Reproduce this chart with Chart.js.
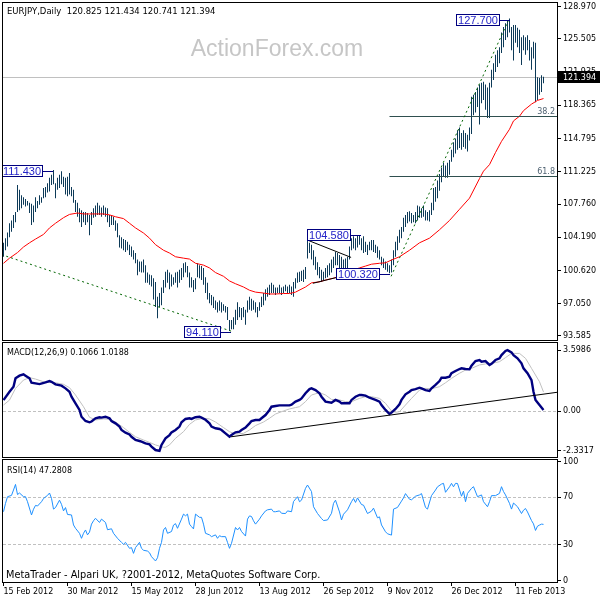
<!DOCTYPE html>
<html>
<head>
<meta charset="utf-8">
<title>EURJPY Daily</title>
<script src="https://cdn.jsdelivr.net/npm/chart.js@4.4.1/dist/chart.umd.min.js"></script>
<style>
    html, body { margin: 0; padding: 0; background: #ffffff; }
    #board { position: relative; width: 600px; height: 600px; overflow: hidden; background: #ffffff; }
    #board canvas { position: absolute; left: 0; }
</style>
</head>
<body>
<div id="board">
    <canvas id="priceChart" width="600" height="348" style="top:0px"></canvas>
    <canvas id="macdChart" width="600" height="130" style="top:335px"></canvas>
    <canvas id="rsiChart" width="600" height="148" style="top:452px"></canvas>
</div>
<script>
// EURJPY daily - bars, moving average, MACD and RSI panels

// bar index 0 = 15 Feb 2012, one bar per trading day
const barHigh = [
    103.6, 104.1, 104.7, 105.7, 106.0, 106.6, 106.9, 109.8, 109.3, 108.7,
    108.5, 108.3, 108.1, 107.9, 107.8, 107.6, 108.5, 108.1, 108.7, 108.5,
    109.5, 109.6, 110.0, 110.6, 110.9, 111.43, 110.0, 110.6, 110.9, 111.3,
    110.7, 110.6, 110.7, 111.1, 109.6, 109.3, 108.2, 107.9, 107.3, 107.1,
    106.9, 106.9, 106.8, 106.6, 106.9, 107.3, 107.6, 107.9, 107.6, 107.4,
    107.6, 107.4, 107.3, 106.6, 106.6, 106.4, 106.0, 105.7, 104.4, 104.2,
    104.0, 103.9, 103.7, 103.4, 103.2, 102.8, 102.5, 101.8, 101.6, 101.6,
    101.8, 101.2, 100.4, 100.2, 100.1, 99.8, 99.4, 97.8, 98.2, 98.8,
    99.6, 100.5, 100.7, 100.4, 100.2, 99.9, 100.4, 100.5, 100.7, 100.9,
    101.4, 101.5, 101.1, 100.4, 99.9, 99.6, 99.8, 101.4, 101.2, 101.1,
    100.9, 99.9, 99.3, 98.2, 98.0, 97.8, 97.4, 97.2, 97.4, 97.2,
    97.0, 96.8, 96.7, 95.3, 95.3, 95.6, 96.4, 97.2, 96.7, 96.6,
    96.7, 96.4, 97.4, 97.8, 97.6, 97.4, 97.2, 96.7, 97.2, 97.8,
    98.2, 98.6, 98.8, 99.1, 99.3, 99.1, 98.8, 98.8, 99.1, 98.8,
    98.9, 99.1, 98.9, 99.1, 98.9, 99.4, 99.8, 100.4, 100.5, 100.6,
    100.7, 101.0, 104.58, 103.6, 103.4, 102.8, 102.1, 101.5, 101.0, 100.7,
    100.5, 100.9, 101.2, 101.4, 101.8, 102.1, 102.6, 102.5, 102.3, 102.1,
    101.8, 101.9, 102.1, 103.2, 104.1, 104.3, 104.1, 104.4, 104.4, 104.1,
    104.3, 103.7, 103.4, 103.7, 103.9, 103.9, 103.4, 103.2, 102.8, 102.1,
    101.9, 101.6, 101.4, 101.2, 101.8, 102.8, 103.7, 104.3, 105.0, 105.3,
    106.3, 106.6, 106.9, 107.0, 106.8, 106.6, 106.9, 107.6, 107.5, 107.3,
    107.6, 107.1, 106.9, 107.1, 107.9, 109.5, 109.6, 110.3, 111.0, 111.7,
    112.2, 111.9, 112.2, 112.5, 113.6, 114.4, 114.8, 115.7, 116.0, 115.4,
    115.7, 115.4, 115.2, 116.0, 119.3, 119.5, 119.8, 120.3, 120.6, 120.8,
    120.9, 120.6, 120.3, 120.8, 122.2, 122.9, 123.8, 124.3, 124.6, 126.2,
    126.8, 127.2, 127.5, 127.7, 126.8, 127.0, 127.0, 126.7, 126.5, 125.7,
    125.9, 125.7, 125.9, 125.4, 124.6, 125.2, 125.1, 121.4, 121.3, 121.6,
    121.434
];
const barLow = [
    102.1, 102.8, 103.2, 104.2, 104.8, 105.2, 105.8, 106.9, 107.1, 107.3,
    107.7, 107.5, 107.6, 106.8, 105.5, 105.8, 106.9, 107.3, 107.7, 107.9,
    108.4, 108.5, 109.0, 109.1, 109.8, 109.9, 108.4, 109.3, 109.5, 109.9,
    109.6, 108.8, 108.6, 108.8, 108.6, 107.9, 106.9, 106.4, 105.8, 105.3,
    105.8, 105.5, 105.8, 104.4, 105.5, 106.3, 106.4, 106.6, 106.6, 106.4,
    106.6, 106.4, 105.8, 105.3, 105.5, 105.5, 104.9, 104.2, 103.1, 103.0,
    102.8, 102.6, 102.8, 102.3, 102.1, 101.8, 101.4, 100.1, 100.5, 100.4,
    100.4, 99.3, 99.3, 99.1, 98.9, 97.5, 96.7, 95.5, 96.7, 96.9,
    98.2, 98.8, 99.3, 98.6, 98.9, 99.1, 99.3, 98.8, 99.3, 99.6,
    99.9, 100.4, 99.9, 98.8, 98.8, 98.3, 98.6, 99.9, 99.8, 99.6,
    99.1, 98.2, 97.5, 97.1, 96.9, 96.6, 96.4, 96.1, 96.3, 96.1,
    96.3, 96.1, 95.3, 94.11, 94.3, 94.3, 94.8, 95.3, 95.6, 95.3,
    95.6, 94.8, 96.1, 96.4, 96.3, 96.4, 96.1, 95.6, 96.3, 96.7,
    96.9, 97.4, 97.8, 98.0, 98.2, 98.2, 98.0, 98.2, 98.2, 98.0,
    98.2, 98.4, 98.2, 98.2, 98.0, 97.8, 98.7, 99.3, 99.4, 99.5,
    99.4, 99.7, 101.9, 102.5, 101.8, 101.2, 100.7, 100.1, 99.8, 99.4,
    99.6, 99.8, 99.9, 100.1, 100.4, 100.9, 101.2, 101.2, 100.7, 100.5,
    100.4, 100.7, 100.9, 101.8, 102.8, 103.0, 102.8, 103.1, 103.4, 102.8,
    102.5, 102.6, 102.3, 102.8, 102.8, 102.6, 102.5, 102.0, 101.8, 101.2,
    100.9, 100.7, 100.5, 100.32, 100.4, 101.2, 102.1, 102.8, 103.6, 104.1,
    104.8, 105.3, 105.7, 105.9, 105.7, 105.8, 105.7, 106.0, 106.3, 106.3,
    106.4, 106.0, 106.0, 105.9, 106.6, 107.1, 108.0, 108.4, 109.2, 110.1,
    110.7, 110.6, 110.6, 110.9, 112.3, 112.8, 113.2, 113.6, 113.8, 113.6,
    113.9, 113.7, 113.4, 114.6, 115.3, 117.3, 117.6, 118.2, 116.3, 118.6,
    118.95, 117.9, 117.0, 117.0, 120.3, 121.1, 121.95, 122.5, 122.9, 124.0,
    124.6, 125.4, 125.7, 126.2, 124.3, 123.2, 125.1, 124.6, 124.0, 122.7,
    124.3, 123.8, 124.3, 123.2, 122.2, 123.4, 118.7, 118.95, 119.5, 119.8,
    120.741
];
const lastBar = { open: 120.825, high: 121.434, low: 120.741, close: 121.394 };

// red moving average, read every few bars
const maIdx = [0, 3, 7, 10, 13, 16, 20, 23, 26, 30, 33, 37, 40, 43, 46, 50, 53, 56, 60, 63,
    66, 70, 73, 76, 80, 83, 86, 90, 93, 96, 100, 103, 106, 110, 113, 116, 120, 123, 126, 130,
    133, 136, 140, 143, 146, 151, 154, 158, 161, 165, 168, 171, 174, 178, 181, 184, 188, 191, 194, 198,
    203, 208, 213, 218, 223, 228, 233, 238, 240, 243, 246, 249, 253, 255, 258, 260, 264, 267, 270];
const maVal = [101.4, 101.95, 102.55, 103.15, 103.6, 104.0, 104.5, 105.2, 105.7, 106.3,
    106.65, 106.8, 106.7, 106.7, 106.7, 106.7, 106.6, 106.4, 106.2, 105.7,
    105.2, 104.65, 104.1, 103.4, 102.8, 102.5, 102.1, 101.95, 101.85, 101.4,
    101.2, 100.9, 100.4, 100.0, 99.5, 99.2, 98.85, 98.5, 98.3, 98.2,
    98.1, 98.1, 98.15, 98.15, 98.3, 98.85, 99.3, 99.4, 99.6, 99.8,
    100.0, 100.35, 100.6, 100.9, 101.1, 101.3, 101.4, 101.45, 101.75, 102.1,
    102.8, 103.6, 104.1, 105.0, 106.0, 107.2, 108.4, 110.5, 111.3, 112.0,
    113.3, 114.5, 115.8, 116.7, 117.2, 117.8, 118.5, 118.9, 119.1];

// MACD(12,26,9) main and signal
const macdIdx = [0, 3, 5, 6, 8, 10, 11, 13, 14, 18, 21, 23, 24, 26, 29, 31, 33, 34, 36, 38,
    39, 41, 43, 44, 46, 48, 49, 51, 53, 54, 56, 58, 59, 61, 63, 64, 66, 68, 69, 71,
    73, 74, 76, 78, 79, 81, 83, 84, 86, 88, 89, 91, 93, 94, 96, 98, 99, 101, 103, 104,
    106, 108, 109, 111, 113, 114, 116, 118, 119, 121, 123, 124, 126, 128, 129, 131, 133, 134, 136, 138,
    143, 144, 146, 148, 149, 151, 153, 154, 156, 158, 159, 161, 164, 166, 168, 169, 173, 174, 176, 178,
    179, 181, 183, 184, 186, 188, 189, 191, 193, 194, 196, 198, 199, 201, 203, 204, 206, 208, 209, 211,
    213, 214, 216, 218, 219, 221, 223, 224, 226, 228, 229, 231, 233, 234, 236, 238, 239, 241, 243, 244,
    246, 248, 249, 251, 252, 254, 255, 257, 259, 260, 262, 264, 265, 266, 268, 270];
const macdVal = [0.66, 1.15, 1.45, 1.94, 2.1, 2.18, 2.1, 1.94, 1.68, 1.6,
    1.7, 1.78, 1.74, 1.59, 1.51, 1.35, 1.15, 0.86, 0.47, 0.08,
    -0.32, -0.57, -0.65, -0.6, -0.41, -0.35, -0.37, -0.32, -0.41, -0.57,
    -0.71, -0.9, -1.1, -1.26, -1.36, -1.5, -1.69, -1.75, -1.79, -1.89,
    -1.95, -2.08, -2.28, -2.33, -1.98, -1.59, -1.4, -1.24, -1.1, -0.9,
    -0.65, -0.45, -0.41, -0.45, -0.35, -0.32, -0.37, -0.5, -0.71, -0.9,
    -1.0, -1.04, -1.1, -1.3, -1.5, -1.4, -1.24, -1.2, -1.1, -0.96,
    -0.71, -0.57, -0.51, -0.51, -0.41, -0.22, 0.08, 0.27, 0.31, 0.35,
    0.35, 0.39, 0.57, 0.67, 0.76, 1.06, 1.31, 1.35, 1.25, 1.06,
    0.86, 0.57, 0.51, 0.67, 0.57, 0.47, 0.47, 0.67, 0.86, 0.96,
    0.96, 0.92, 0.8, 0.76, 0.67, 0.57, 0.37, 0.08, -0.16, -0.08,
    0.14, 0.41, 0.67, 1.0, 1.15, 1.25, 1.31, 1.39, 1.35, 1.25,
    1.2, 1.35, 1.55, 1.78, 1.98, 1.98, 2.04, 2.24, 2.37, 2.49,
    2.53, 2.49, 2.47, 2.69, 2.96, 3.02, 2.92, 2.96, 2.73, 2.8,
    3.02, 3.12, 3.31, 3.55, 3.6, 3.47, 3.31, 3.12, 2.83, 2.53,
    2.24, 1.84, 1.15, 0.67, 0.37, 0.08];
const sigIdx = [0, 3, 6, 10, 13, 16, 20, 23, 26, 30, 33, 36, 40, 43, 46, 50, 53, 56, 60, 63,
    66, 70, 73, 76, 80, 81, 83, 86, 90, 93, 96, 100, 103, 106, 110, 113, 116, 120, 123, 126,
    130, 133, 136, 140, 143, 146, 148, 151, 154, 158, 161, 164, 168, 171, 174, 178, 181, 184, 188, 191,
    194, 196, 198, 201, 204, 208, 211, 214, 218, 221, 224, 228, 231, 234, 238, 241, 244, 248, 251, 254,
    258, 261, 264, 268, 270];
const sigVal = [0.37, 0.66, 1.35, 1.84, 1.98, 1.9, 1.74, 1.7, 1.68, 1.59,
    1.39, 0.96, 0.27, -0.35, -0.51, -0.45, -0.47, -0.63, -0.96, -1.24,
    -1.5, -1.69, -1.83, -1.98, -2.12, -2.12, -1.98, -1.59, -1.2, -0.77,
    -0.51, -0.41, -0.45, -0.63, -0.96, -1.2, -1.34, -1.3, -1.1, -0.84,
    -0.63, -0.41, -0.16, 0.02, 0.14, 0.22, 0.27, 0.57, 0.96, 1.1,
    0.96, 0.7, 0.67, 0.57, 0.57, 0.76, 0.86, 0.86, 0.76, 0.47,
    0.02, -0.06, -0.02, 0.37, 0.76, 1.25, 1.35, 1.33, 1.45, 1.68,
    1.94, 2.24, 2.43, 2.53, 2.73, 2.79, 2.82, 2.92, 3.16, 3.41,
    3.41, 3.12, 2.53, 1.74, 1.14];

// RSI(14)
const rsiIdx = [0, 1, 2, 4, 5, 6, 7, 8, 10, 11, 12, 14, 15, 16, 17, 19, 20, 22, 23, 24,
    25, 26, 28, 29, 30, 31, 32, 34, 35, 36, 38, 39, 40, 41, 42, 43, 44, 45, 46, 48,
    49, 51, 52, 54, 55, 57, 59, 60, 61, 63, 64, 65, 66, 68, 69, 70, 72, 73, 74, 76,
    77, 78, 79, 80, 81, 82, 84, 85, 86, 87, 89, 90, 91, 92, 93, 94, 95, 96, 98, 99,
    100, 101, 103, 104, 106, 107, 108, 109, 111, 112, 113, 114, 116, 117, 118, 119, 121, 122, 123, 124,
    125, 126, 128, 129, 131, 132, 134, 135, 136, 138, 139, 141, 142, 144, 145, 147, 148, 149, 151, 152,
    154, 155, 157, 159, 160, 162, 164, 165, 166, 168, 169, 170, 172, 174, 175, 176, 177, 179, 180, 182,
    184, 185, 187, 188, 189, 191, 192, 194, 195, 197, 199, 200, 201, 203, 204, 206, 208, 209, 211, 212,
    214, 216, 217, 219, 220, 221, 223, 224, 225, 226, 227, 229, 230, 231, 232, 234, 235, 237, 239, 240,
    242, 243, 244, 246, 248, 249, 250, 251, 253, 254, 255, 257, 259, 260, 261, 262, 264, 265, 266, 267,
    268, 269, 270];
const rsiVal = [57.9, 64.9, 70.5, 71.6, 76.1, 80.8, 72.3, 73.6, 70.5, 70.5,
    66.3, 55.2, 60.0, 63.2, 62.7, 66.3, 69.0, 71.6, 73.6, 69.1,
    60.1, 61.4, 67.6, 64.1, 58.6, 61.4, 55.6, 55.2, 46.8, 44.0,
    39.8, 35.6, 39.8, 42.6, 38.5, 40.8, 47.5, 50.3, 52.4, 48.9,
    51.7, 48.9, 42.8, 43.6, 39.8, 35.6, 32.2, 30.6, 32.2, 27.2,
    27.8, 23.0, 27.8, 32.2, 27.2, 25.6, 24.9, 23.5, 20.2, 16.6,
    19.3, 27.2, 32.2, 42.6, 44.7, 39.8, 41.3, 46.7, 47.9, 44.0,
    51.7, 55.9, 54.5, 55.9, 47.5, 45.4, 43.5, 55.9, 53.2, 53.2,
    47.5, 39.8, 38.5, 37.0, 38.5, 35.6, 37.8, 37.0, 37.0, 32.2,
    27.2, 31.4, 44.7, 42.6, 44.7, 41.3, 37.5, 51.7, 54.4, 53.9,
    50.3, 47.5, 51.7, 54.4, 58.6, 59.5, 60.1, 57.9, 57.9, 58.6,
    56.6, 56.4, 58.6, 57.9, 66.4, 70.5, 66.3, 67.6, 77.5, 80.3,
    74.8, 62.1, 56.4, 52.2, 50.5, 51.0, 56.6, 64.9, 67.6, 57.7,
    51.0, 55.8, 59.5, 66.3, 69.0, 65.7, 69.5, 63.9, 63.4, 56.4,
    58.4, 60.9, 52.8, 53.6, 46.8, 41.1, 39.4, 38.3, 60.1, 61.5,
    66.8, 69.5, 73.1, 68.4, 67.9, 70.9, 72.0, 73.1, 61.5, 60.1,
    71.4, 76.1, 78.8, 81.1, 81.7, 74.2, 78.8, 81.7, 78.8, 81.7,
    81.6, 70.9, 75.1, 66.3, 73.3, 77.5, 78.9, 70.5, 72.0, 66.3,
    62.1, 66.3, 71.4, 71.4, 73.3, 78.9, 74.8, 72.0, 64.9, 60.1,
    65.2, 62.1, 56.4, 59.2, 60.6, 57.7, 50.5, 47.7, 42.2, 45.8,
    46.7, 47.5, 47.3];

// axis ticks
const priceTicks = [93.585, 97.050, 100.620, 104.190, 107.760, 111.225, 114.795, 118.365, 121.935, 125.505, 128.970];
const macdTicks = [3.5986, 0, -2.3317];
const macdTickLabels = ['3.5986', '0.00', '-2.3317'];
const rsiTicks = [100, 70, 30, 0];
const rsiLevels = [70, 30];
const dateTickIdx = [0, 32, 64, 96, 128, 160, 192, 224, 256];
const dateTickLabels = ['15 Feb 2012', '30 Mar 2012', '15 May 2012', '28 Jun 2012', '13 Aug 2012',
    '26 Sep 2012', '9 Nov 2012', '26 Dec 2012', '11 Feb 2013'];

// analyst drawings, points as [bar index, value]
const supportLine = [[-1, 102.33], [113.8, 94.11]];
const rallyLine = [[193.8, 100.0], [252.7, 127.6]];
const wedgeTop = [[152.7, 103.83], [173.8, 102.03]];
const wedgeBottom = [[154.7, 99.25], [173.8, 100.25]];
const fibStartIdx = 193;
const fibLevels = [{ label: '38.2', price: 117.24 }, { label: '61.8', price: 110.78 }];
const priceLabels = [
    { text: '111.430', idx: 24.5, price: 111.43 },
    { text: '94.110', idx: 113.8, price: 94.11 },
    { text: '104.580', idx: 178.8, price: 104.58 },
    { text: '100.320', idx: 193.3, price: 100.32 },
    { text: '127.700', idx: 253, price: 127.7 }
];
const macdTrend = [[113.8, -1.5], [276.8, 1.12]];

const SMALL_FONT = '"DejaVu Sans", Tahoma, Verdana, sans-serif';
const LABEL_FONT = '"Liberation Sans", Arial, sans-serif';

function hLine(ctx, x1, x2, y) {
    ctx.beginPath();
    ctx.moveTo(x1, y);
    ctx.lineTo(x2, y);
    ctx.stroke();
}

function segment(chart, pts) {
    const { ctx, scales: { x, y } } = chart;
    ctx.beginPath();
    ctx.moveTo(x.getPixelForValue(pts[0][0]), y.getPixelForValue(pts[0][1]));
    ctx.lineTo(x.getPixelForValue(pts[1][0]), y.getPixelForValue(pts[1][1]));
    ctx.stroke();
}

function clipArea(chart) {
    const { ctx, chartArea: a } = chart;
    ctx.beginPath();
    ctx.rect(a.left, a.top, a.right - a.left, a.bottom - a.top);
    ctx.clip();
}

function drawPriceLabel(ctx, ax, ay, text) {
    ctx.font = '11px ' + LABEL_FONT;
    const w = Math.round(ctx.measureText(text).width) + 4;
    const right = Math.round(ax) - 10;
    const mid = Math.round(ay + 1);
    const top = mid - 6;
    ctx.fillStyle = '#ffffff';
    ctx.fillRect(right - w, top, w, 12);
    ctx.strokeStyle = '#000080';
    ctx.lineWidth = 1;
    ctx.strokeRect(right - w + 0.5, top + 0.5, w - 1, 11);
    hLine(ctx, right, Math.round(ax), mid + 0.5);
    ctx.fillStyle = '#2424c8';
    ctx.textAlign = 'center';
    ctx.textBaseline = 'middle';
    ctx.fillText(text, right - w / 2, mid + 0.5);
}

// black frame round each panel
const panelFrame = {
    id: 'panelFrame',
    afterDraw(chart) {
        const { ctx, chartArea: a } = chart;
        ctx.save();
        ctx.strokeStyle = '#000000';
        ctx.lineWidth = 1;
        ctx.strokeRect(a.left - 0.5, a.top - 0.5, a.right - a.left + 1, a.bottom - a.top + 1);
        ctx.restore();
    }
};

const priceOverlay = {
    id: 'priceOverlay',
    beforeDatasetsDraw(chart) {
        const { ctx, chartArea: a, scales: { y } } = chart;
        ctx.save();
        ctx.fillStyle = '#c6c6c6';
        ctx.font = '23px ' + LABEL_FONT;
        ctx.textAlign = 'center';
        ctx.textBaseline = 'alphabetic';
        ctx.fillText('ActionForex.com', 277, 56);
        // bid line
        ctx.strokeStyle = '#c0c0c0';
        ctx.lineWidth = 1;
        hLine(ctx, a.left, a.right, Math.floor(y.getPixelForValue(lastBar.close)) + 0.5);
        ctx.restore();
    },
    afterDatasetsDraw(chart) {
        const { ctx, chartArea: a, scales: { x, y } } = chart;
        ctx.save();
        clipArea(chart);
        ctx.lineWidth = 1;

        // fibonacci retracements
        ctx.strokeStyle = '#2f4f4f';
        ctx.fillStyle = '#4f6272';
        ctx.font = '8px ' + SMALL_FONT;
        ctx.textAlign = 'right';
        ctx.textBaseline = 'alphabetic';
        fibLevels.forEach(f => {
            const fy = Math.round(y.getPixelForValue(f.price)) + 0.5;
            hLine(ctx, x.getPixelForValue(fibStartIdx), a.right, fy);
            ctx.fillText(f.label, a.right - 2, fy - 2.5);
        });

        // dotted trend lines
        ctx.strokeStyle = '#006400';
        ctx.setLineDash([2, 3]);
        segment(chart, supportLine);
        segment(chart, rallyLine);
        ctx.setLineDash([]);

        // wedge
        ctx.strokeStyle = '#000000';
        segment(chart, wedgeTop);
        segment(chart, wedgeBottom);

        priceLabels.forEach(p => drawPriceLabel(ctx, x.getPixelForValue(p.idx), y.getPixelForValue(p.price), p.text));
        ctx.restore();
    },
    afterDraw(chart) {
        const { ctx, scales: { y } } = chart;
        ctx.save();
        ctx.fillStyle = '#000000';
        ctx.font = '8.5px ' + SMALL_FONT;
        ctx.textAlign = 'left';
        ctx.textBaseline = 'alphabetic';
        const ohlc = [lastBar.open, lastBar.high, lastBar.low, lastBar.close].map(v => v.toFixed(3)).join(' ');
        ctx.fillText('EURJPY,Daily  ' + ohlc, 7, 13.5);

        // last price tag on the axis
        const ty = Math.round(y.getPixelForValue(lastBar.close));
        ctx.fillRect(558, ty - 6, 42, 12);
        ctx.fillStyle = '#ffffff';
        ctx.font = '8px ' + SMALL_FONT;
        ctx.textBaseline = 'middle';
        ctx.fillText(lastBar.close.toFixed(3), 563, ty + 0.5);
        ctx.restore();
    }
};

const macdOverlay = {
    id: 'macdOverlay',
    beforeDatasetsDraw(chart) {
        const { ctx, chartArea: a, scales: { y } } = chart;
        ctx.save();
        ctx.strokeStyle = '#c0c0c0';
        ctx.lineWidth = 1;
        ctx.setLineDash([3, 2]);
        hLine(ctx, a.left, a.right, Math.floor(y.getPixelForValue(0)) + 0.5);
        ctx.restore();
    },
    afterDatasetsDraw(chart) {
        const { ctx } = chart;
        ctx.save();
        clipArea(chart);
        ctx.strokeStyle = '#000000';
        ctx.lineWidth = 1;
        segment(chart, macdTrend);
        ctx.restore();
    },
    afterDraw(chart) {
        const { ctx } = chart;
        ctx.save();
        ctx.fillStyle = '#000000';
        ctx.font = '8px ' + SMALL_FONT;
        ctx.textAlign = 'left';
        ctx.textBaseline = 'alphabetic';
        ctx.fillText('MACD(12,26,9) 0.1066 1.0188', 7, 19.5);
        ctx.restore();
    }
};

const rsiOverlay = {
    id: 'rsiOverlay',
    beforeDatasetsDraw(chart) {
        const { ctx, chartArea: a, scales: { y } } = chart;
        ctx.save();
        ctx.strokeStyle = '#c0c0c0';
        ctx.lineWidth = 1;
        ctx.setLineDash([3, 2]);
        rsiLevels.forEach(l => hLine(ctx, a.left, a.right, Math.floor(y.getPixelForValue(l)) + 0.5));
        ctx.restore();
    },
    afterDraw(chart) {
        const { ctx } = chart;
        ctx.save();
        ctx.fillStyle = '#000000';
        ctx.textAlign = 'left';
        ctx.textBaseline = 'alphabetic';
        ctx.font = '8px ' + SMALL_FONT;
        ctx.fillText('RSI(14) ' + (47.2808).toFixed(4), 7, 21);
        ctx.font = '9.75px ' + SMALL_FONT;
        ctx.fillText('MetaTrader - Alpari UK, ?2001-2012, MetaQuotes Software Corp.', 6, 126);
        ctx.restore();
    }
};

function dateAxis(show) {
    return {
        type: 'linear',
        min: -0.25,
        max: 276.75,
        offset: false,
        display: show,
        grid: { display: show, drawOnChartArea: false, drawTicks: true, tickLength: 4, color: '#000000', offset: false },
        border: { display: false },
        ticks: {
            autoSkip: false,
            maxRotation: 0,
            minRotation: 0,
            align: 'start',
            padding: 1,
            color: '#000000',
            font: { family: SMALL_FONT, size: 8 },
            callback: (value) => {
                const k = dateTickIdx.indexOf(value);
                return k >= 0 ? dateTickLabels[k] : '';
            }
        },
        afterBuildTicks: (axis) => { axis.ticks = dateTickIdx.map(v => ({ value: v })); },
        afterFit: (axis) => {
            // only the bottom panel shows dates
            axis.height = show ? 18 : 0;
            axis.paddingLeft = 0;
            axis.paddingRight = 0;
        }
    };
}

function valueAxis(min, max, tickValues, format) {
    return {
        type: 'linear',
        position: 'right',
        min: min,
        max: max,
        bounds: 'data',
        beginAtZero: false,
        grid: { drawOnChartArea: false, drawTicks: true, tickLength: 4, color: '#000000' },
        border: { display: false },
        ticks: {
            autoSkip: false,
            padding: 2,
            color: '#000000',
            font: { family: SMALL_FONT, size: 8 },
            callback: (value) => format(value)
        },
        afterBuildTicks: (axis) => { axis.ticks = tickValues.map(v => ({ value: v })); },
        afterFit: (axis) => {
            axis.width = 43;
            axis.paddingTop = 0;
            axis.paddingBottom = 0;
        }
    };
}

const baseOptions = {
    responsive: false,
    animation: false,
    events: [],
    plugins: { legend: { display: false }, tooltip: { enabled: false } }
};

const toPoints = (idx, vals) => idx.map((x, k) => ({ x: x, y: vals[k] }));

new Chart(document.getElementById('priceChart'), {
    type: 'bar',
    data: {
        datasets: [
            {
                type: 'line',
                label: 'MA',
                data: toPoints(maIdx, maVal),
                borderColor: '#ff0000',
                borderWidth: 1,
                pointRadius: 0,
                tension: 0,
                order: 0
            },
            {
                type: 'bar',
                label: 'EURJPY',
                data: barHigh.map((h, i) => ({ x: i, y: [barLow[i], h] })),
                backgroundColor: '#0d3a58',
                borderWidth: 0,
                barThickness: 1,
                inflateAmount: 0,
                order: 1
            }
        ]
    },
    options: {
        ...baseOptions,
        layout: { padding: { left: 3, top: 3, right: 0, bottom: 8 } },
        scales: {
            x: dateAxis(false),
            y: valueAxis(93.155, 129.368, priceTicks, v => v.toFixed(3))
        }
    },
    plugins: [priceOverlay, panelFrame]
});

new Chart(document.getElementById('macdChart'), {
    type: 'line',
    data: {
        datasets: [
            {
                label: 'MACD',
                data: toPoints(macdIdx, macdVal),
                borderColor: '#000080',
                borderWidth: 2.4,
                pointRadius: 0,
                tension: 0
            },
            {
                label: 'Signal',
                data: toPoints(sigIdx, sigVal),
                borderColor: '#c0c0c0',
                borderWidth: 1,
                pointRadius: 0,
                tension: 0
            }
        ]
    },
    options: {
        ...baseOptions,
        layout: { padding: { left: 3, top: 8, right: 0, bottom: 8 } },
        scales: {
            x: dateAxis(false),
            y: valueAxis(-2.691, 4.022, macdTicks, v => macdTickLabels[macdTicks.indexOf(v)])
        }
    },
    plugins: [macdOverlay, panelFrame]
});

new Chart(document.getElementById('rsiChart'), {
    type: 'line',
    data: {
        datasets: [
            {
                label: 'RSI',
                data: toPoints(rsiIdx, rsiVal),
                borderColor: '#1e90ff',
                borderWidth: 1,
                pointRadius: 0,
                tension: 0
            }
        ]
    },
    options: {
        ...baseOptions,
        layout: { padding: { left: 3, top: 8, right: 0, bottom: 0 } },
        scales: {
            x: dateAxis(true),
            y: valueAxis(-1.03, 101.28, rsiTicks, v => String(v))
        }
    },
    plugins: [rsiOverlay, panelFrame]
});
</script>
</body>
</html>
